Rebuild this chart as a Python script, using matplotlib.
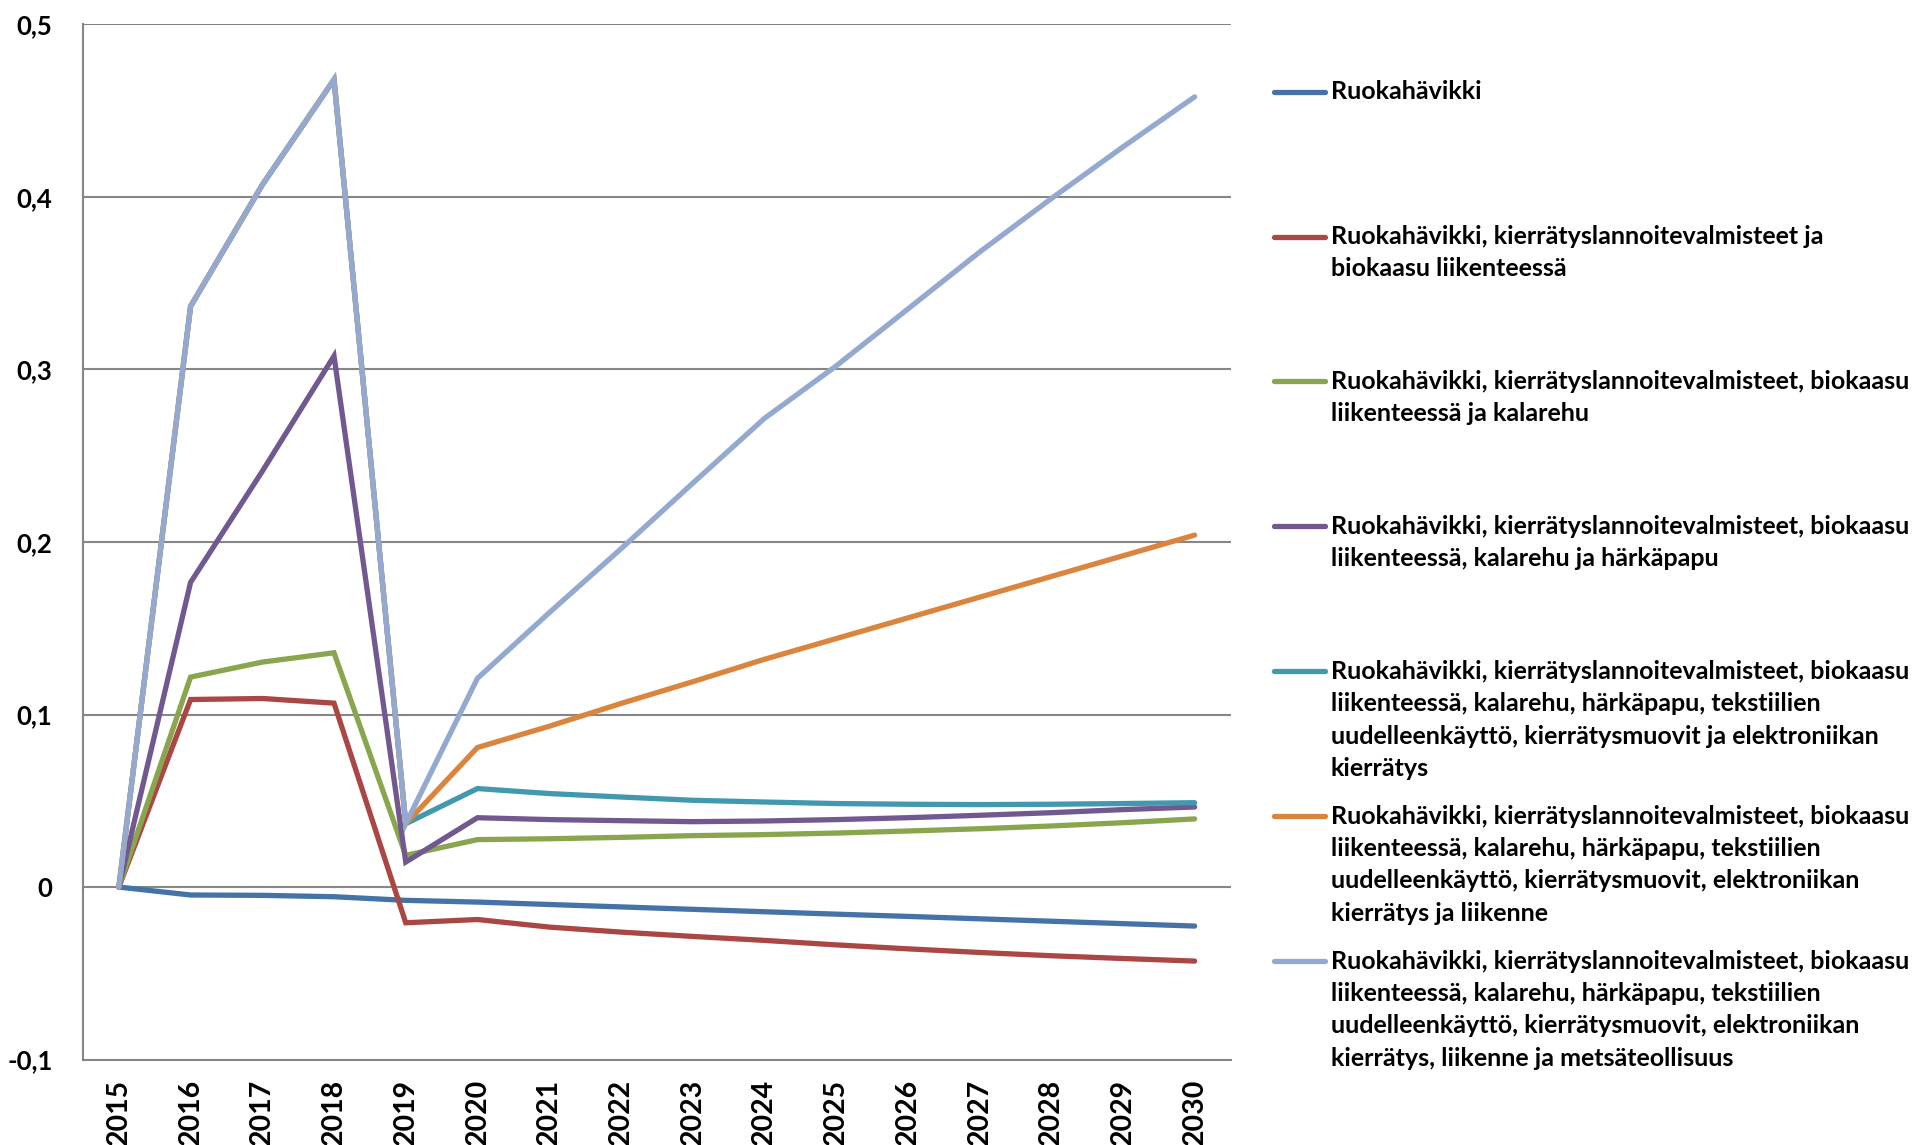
import numpy as np
import matplotlib
matplotlib.use("Agg")
import matplotlib.pyplot as plt
from matplotlib.lines import Line2D

plt.rcParams['font.family'] = ['Lato', 'DejaVu Sans']

# Vuodet ja skenaariot
years = [str(y) for y in range(2015, 2031)]

ruokahavikki = [0.0, -0.0046, -0.0048, -0.0056, -0.0077, -0.0087, -0.0101, -0.0115,
                -0.0129, -0.0143, -0.0157, -0.0170, -0.0184, -0.0198, -0.0212, -0.0226]
lannoite_biokaasu = [0.0, 0.1087, 0.1093, 0.1066, -0.0207, -0.0188, -0.0232, -0.0261,
                     -0.0286, -0.0309, -0.0335, -0.0358, -0.0379, -0.0398, -0.0414, -0.0429]
kalarehu = [0.0, 0.1217, 0.1304, 0.1358, 0.0184, 0.0275, 0.0280, 0.0288,
            0.0298, 0.0304, 0.0313, 0.0325, 0.0338, 0.0354, 0.0373, 0.0395]
harkapapu = [0.0, 0.1766, 0.2410, 0.3078, 0.0145, 0.0402, 0.0391, 0.0385,
             0.0379, 0.0383, 0.0391, 0.0402, 0.0416, 0.0431, 0.0449, 0.0464]
elektroniikka = [0.0, 0.3366, 0.4070, 0.4680, 0.0367, 0.0571, 0.0542, 0.0522,
                 0.0503, 0.0493, 0.0484, 0.0480, 0.0478, 0.0480, 0.0484, 0.0489]
liikenne = [0.0, 0.3366, 0.4070, 0.4680, 0.0367, 0.0809, 0.0932, 0.1064,
            0.1190, 0.1320, 0.1440, 0.1560, 0.1680, 0.1800, 0.1920, 0.2040]
metsateollisuus = [0.0, 0.3366, 0.4070, 0.4680, 0.0367, 0.1210, 0.1590, 0.1960,
                   0.2340, 0.2716, 0.3020, 0.3350, 0.3680, 0.3990, 0.4290, 0.4580]

series = [ruokahavikki, lannoite_biokaasu, kalarehu, harkapapu,
          elektroniikka, liikenne, metsateollisuus]

labels = [
    "Ruokahävikki",
    "Ruokahävikki, kierrätyslannoitevalmisteet ja\nbiokaasu liikenteessä",
    "Ruokahävikki, kierrätyslannoitevalmisteet, biokaasu\nliikenteessä ja kalarehu",
    "Ruokahävikki, kierrätyslannoitevalmisteet, biokaasu\nliikenteessä, kalarehu ja härkäpapu",
    "Ruokahävikki, kierrätyslannoitevalmisteet, biokaasu\nliikenteessä, kalarehu, härkäpapu, tekstiilien\n"
    "uudelleenkäyttö, kierrätysmuovit ja elektroniikan\nkierrätys",
    "Ruokahävikki, kierrätyslannoitevalmisteet, biokaasu\nliikenteessä, kalarehu, härkäpapu, tekstiilien\n"
    "uudelleenkäyttö, kierrätysmuovit, elektroniikan\nkierrätys ja liikenne",
    "Ruokahävikki, kierrätyslannoitevalmisteet, biokaasu\nliikenteessä, kalarehu, härkäpapu, tekstiilien\n"
    "uudelleenkäyttö, kierrätysmuovit, elektroniikan\nkierrätys, liikenne ja metsäteollisuus",
]

colors = ["#4572A7", "#AA4643", "#89A54E", "#71588F", "#4198AF", "#DB843D", "#93A9CF"]

W, H = 1914, 1145
fig = plt.figure(figsize=(W / 100, H / 100), dpi=100)
ax = fig.add_axes([83 / W, 1 - 1059.6 / H, (1230.5 - 83) / W, (1059.6 - 24.4) / H])

x = np.arange(len(years))
for vals, col in zip(series, colors):
    ax.plot(x, vals, color=col, lw=3.8, solid_capstyle="round", solid_joinstyle="miter")

ax.set_xlim(-0.5, len(years) - 0.5)
ax.set_ylim(-0.1, 0.5)
yticks = np.round(np.arange(-0.1, 0.51, 0.1), 1)
ax.set_yticks(yticks)
ax.set_yticklabels([("%g" % v).replace(".", ",") for v in yticks],
                   fontsize=18.5, fontweight="bold")
ax.set_xticks(x)
ax.set_xticklabels(years, rotation=90, fontsize=20.5, fontweight="bold", va="top")
ax.tick_params(axis="y", length=0, pad=22)
ax.tick_params(axis="x", length=0, pad=14)

ax.yaxis.grid(True, color="#868686", lw=1.5)
ax.set_axisbelow(True)
for s in ("top", "right"):
    ax.spines[s].set_visible(False)
for s in ("left", "bottom"):
    ax.spines[s].set_color("#868686")
    ax.spines[s].set_linewidth(1.5)

# Selite oikealla: tasavälein, ensimmäinen rivi viivan kohdalla
y0, step, line_h = 91.6, 144.9, 32.4
for i, (lab, col) in enumerate(zip(labels, colors)):
    yc = y0 + i * step
    fig.add_artist(Line2D([1274 / W, 1325 / W], [1 - yc / H, 1 - yc / H],
                          transform=fig.transFigure, color=col, lw=3.8,
                          solid_capstyle="round"))
    for k, row in enumerate(lab.split("\n")):
        fig.text(1331 / W, 1 - (yc + k * line_h) / H, row, fontsize=18,
                 fontweight="bold", va="center", ha="left")

fig.savefig("out.png", dpi=100)
